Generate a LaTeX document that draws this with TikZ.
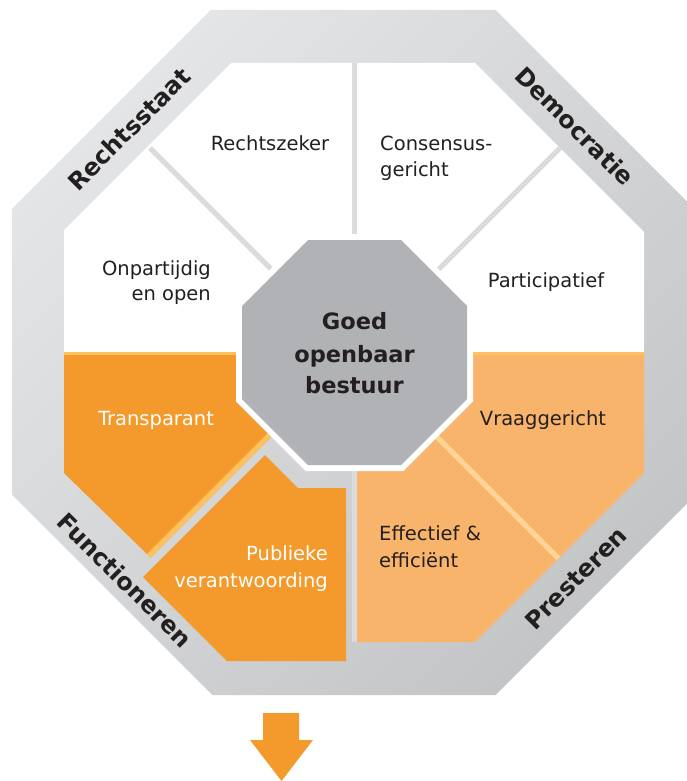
\documentclass[tikz,border=0pt]{standalone}
\usepackage{fontspec}
\setmainfont{DejaVu Sans}
\definecolor{txt}{HTML}{231F20}
\definecolor{bandlight}{HTML}{E4E5E7}
\definecolor{banddark}{HTML}{C4C5C7}
\definecolor{divgray}{HTML}{DADBDD}
\definecolor{ctrgray}{HTML}{B1B2B5}
\definecolor{orgdark}{HTML}{F4992B}
\definecolor{orglight}{HTML}{F9B46C}
\definecolor{stripe}{HTML}{FEC35E}
\definecolor{stripelight}{HTML}{FDD496}
\begin{document}
\begin{tikzpicture}[x=1pt,y=-1pt,
  lbl/.style={font=\fontsize{19.5}{22}\selectfont, text=txt, inner sep=0pt},
  lblw/.style={lbl, text=white},
  bandlbl/.style={font=\bfseries\fontsize{24}{26}\selectfont, text=txt, inner sep=0pt},
  ctrlbl/.style={font=\bfseries\fontsize{22.5}{26}\selectfont, text=txt, inner sep=0pt},
  divider/.style={draw=divgray, line width=5pt}]
\useasboundingbox (0,0) rectangle (687,781);
% outer band
\shade[top color=bandlight, bottom color=banddark, shading angle=45]
  (210.5,10) -- (495.5,10) -- (687,201.5) -- (687,503.5) -- (495.5,695)
  -- (212.5,695) -- (12,494.5) -- (12,208.5) -- cycle;
% white inner area
\fill[white] (64,230) -- (231,63) -- (475,63) -- (644,232) -- (644,352) -- (64,352) -- cycle;
% dividers
\draw[divider] (354.5,63) -- (354.5,642);
\draw[divider] (150,148) -- (354,352);
\draw[divider] (560,148) -- (354,354);
% Transparant
\def\transp{(64,352) -- (236,352) -- (236,401.5) -- (271.25,436.75) -- (150.5,557.5) -- (64,473) -- cycle}
\fill[orgdark] \transp;
\begin{scope}
  \clip \transp;
  \draw[stripe, line width=10pt] (60,350) -- (240,350);
  \draw[stripe, line width=10pt] (273.5,434.5) -- (148,560);
\end{scope}
% Publieke verantwoording
\fill[orgdark] (265,455) -- (298,488) -- (346,488) -- (346,661) -- (227,661) -- (143,577) -- cycle;
% Vraaggericht
\def\vraag{(473,352) -- (644,352) -- (644,473) -- (558.5,558.5) -- (437.25,437.25) -- (473,401.5) -- cycle}
\fill[orglight] \vraag;
\begin{scope}
  \clip \vraag;
  \draw[stripe, line width=10pt] (470,350) -- (648,350);
\end{scope}
% Effectief
\fill[orglight] (357,471) -- (403.5,471) -- (437.25,437.25) -- (558.5,558.5) -- (475,642) -- (357,642) -- cycle;
\draw[stripelight, line width=5pt] (437.25,437.25) -- (558.5,558.5);
% centre octagon
\filldraw[draw=white, line width=12pt, line join=miter, fill=ctrgray]
  (308,240) -- (401,240) -- (467,306) -- (467,399) -- (401,465) -- (308,465) -- (242,399) -- (242,306) -- cycle;
\fill[ctrgray] (308,240) -- (401,240) -- (467,306) -- (467,399) -- (401,465) -- (308,465) -- (242,399) -- (242,306) -- cycle;
% centre text
\node[ctrlbl, anchor=base] (g1) at (354.5,329) {Goed};
\node[ctrlbl, anchor=base] (g2) at (354.5,362) {openbaar};
\node[ctrlbl, anchor=base] (g3) at (354.5,393) {bestuur};
% labels
\node[lbl, anchor=base] (rz) at (270,150) {Rechtszeker};
\node[lbl, anchor=base west] (cs1) at (380,150) {Consensus-};
\node[lbl, anchor=base west] (cs2) at (380,176) {gericht};
\node[lbl, anchor=base east] (op1) at (211,275) {Onpartijdig};
\node[lbl, anchor=base east] (op2) at (211,300) {en open};
\node[lbl, anchor=base] (pa) at (546,287) {Participatief};
\node[lblw, anchor=base] (tr) at (156,425) {Transparant};
\node[lblw, anchor=base east] (pv1) at (328,560) {Publieke};
\node[lblw, anchor=base east] (pv2) at (328,587) {verantwoording};
\node[lbl, anchor=base] (vr) at (543,425) {Vraaggericht};
\node[lbl, anchor=base west] (ef1) at (379,540) {Effectief \&};
\node[lbl, anchor=base west] (ef2) at (379,567) {efficiënt};
% band labels
\node[bandlbl, rotate=45] (rs) at (129,129) {Rechtsstaat};
\node[bandlbl, rotate=-45] (dm) at (575,126) {Democratie};
\node[bandlbl, rotate=-45] (fn) at (125,580) {Functioneren};
\node[bandlbl, rotate=45] (pr) at (576,578) {Presteren};
% arrow
\fill[orgdark] (263,713) -- (299,713) -- (299,740) -- (313,740) -- (281.5,781) -- (250,740) -- (263,740) -- cycle;
\end{tikzpicture}
\end{document}
